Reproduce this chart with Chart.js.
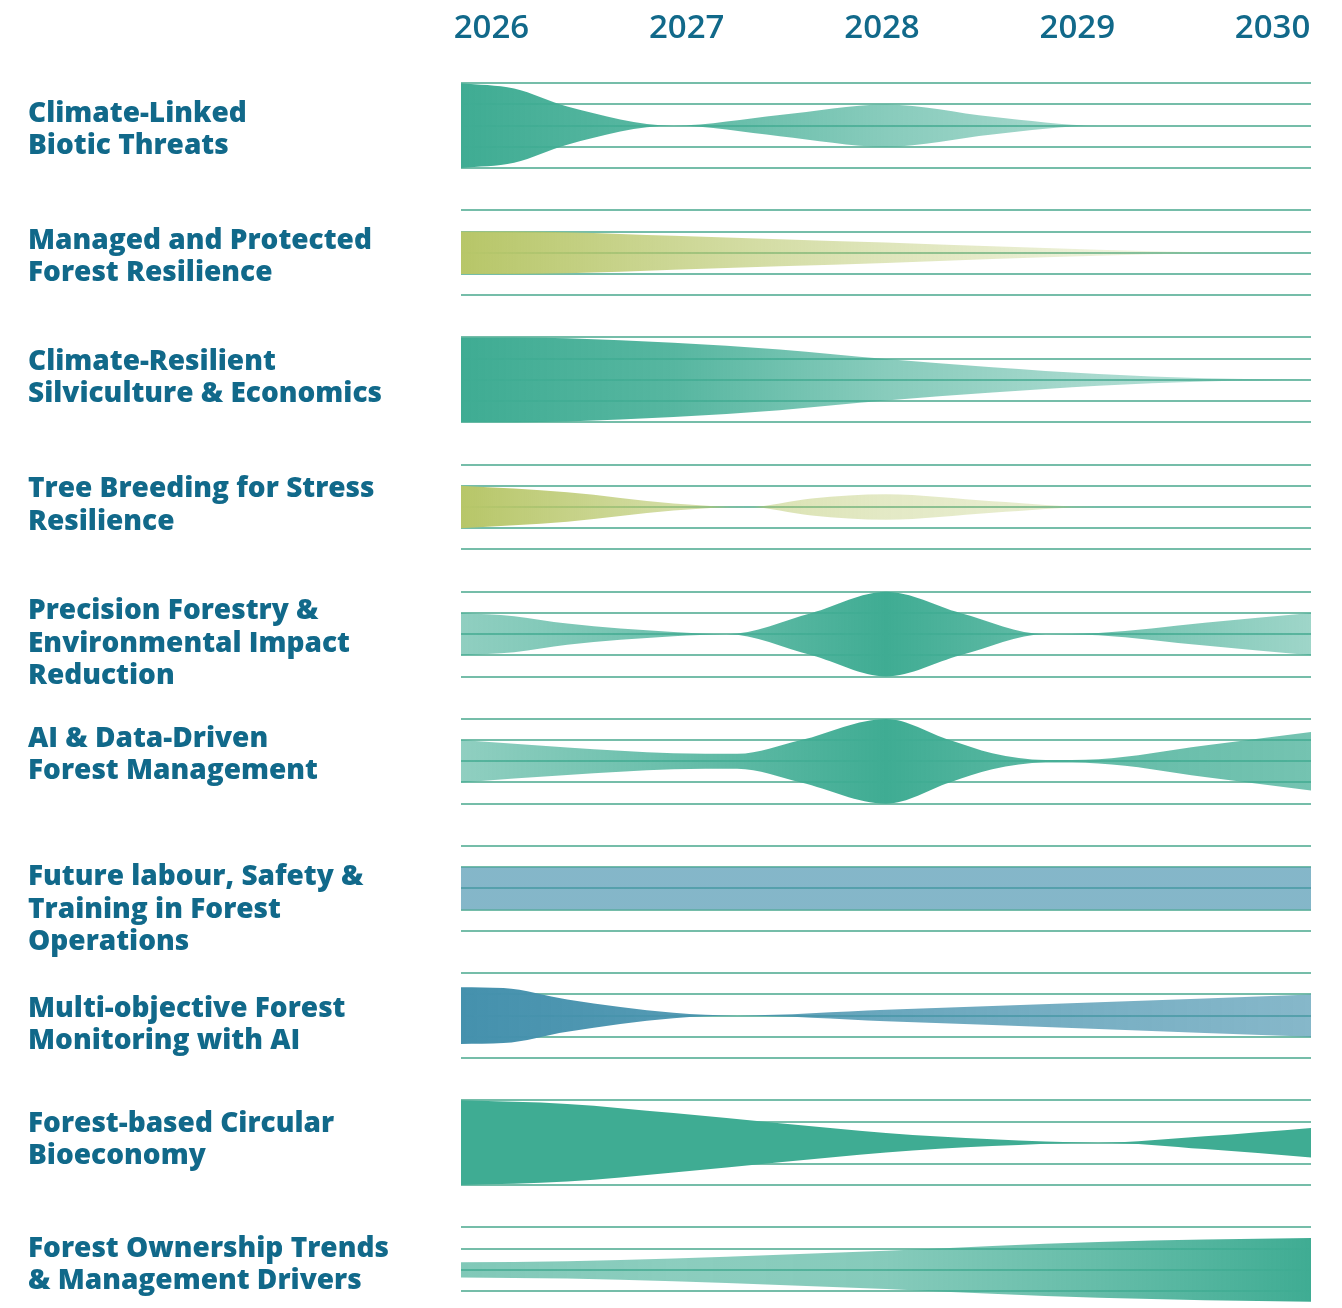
<!DOCTYPE html>
<html lang="en">
<head>
<meta charset="UTF-8">
<title>Research topics 2026 - 2030</title>
<script src="https://cdn.jsdelivr.net/npm/chart.js"></script>
<style>
  html, body { margin: 0; padding: 0; background: #fff; }
  #wrap { width: 1342px; height: 1308px; }
</style>
</head>
<body>
<div id="wrap"><canvas id="roadmap" width="1342" height="1308"></canvas></div>
<script>
// topics, top to bottom (one band each)
const topics = [
  ['Climate-Linked', 'Biotic Threats'],
  ['Managed and Protected', 'Forest Resilience'],
  ['Climate-Resilient', 'Silviculture & Economics'],
  ['Tree Breeding for Stress', 'Resilience'],
  ['Precision Forestry &', 'Environmental Impact', 'Reduction'],
  ['AI & Data-Driven', 'Forest Management'],
  ['Future labour, Safety &', 'Training in Forest', 'Operations'],
  ['Multi-objective Forest', 'Monitoring with AI'],
  ['Forest-based Circular', 'Bioeconomy'],
  ['Forest Ownership Trends', '& Management Drivers']
];

const years = [2026, 2027, 2028, 2029, 2030];
const halfYears = [2026, 2026.5, 2027, 2027.5, 2028, 2028.5, 2029, 2029.5, 2030];

// band half-width (in grid steps) at each point in time
const bioticX = [2026, 2026.25, 2026.5, 2027, 2027.5, 2028, 2028.5, 2029, 2030];
const bioticW = [2, 1.75, 0.9, 0, 0.5, 1, 0.42, 0, 0];

const protectedX = [2026, 2026.25, 2026.5, 2027, 2027.5, 2028, 2028.5, 2029, 2029.5, 2030];
const protectedW = [1, 1, 0.97, 0.8, 0.64, 0.48, 0.3, 0.14, 0.02, 0];

const silvicultureX = [2026, 2026.25, 2026.5, 2027, 2027.5, 2028, 2028.5, 2029, 2029.5, 2030];
const silvicultureW = [2, 2, 1.96, 1.75, 1.43, 0.98, 0.6, 0.28, 0.08, 0];

const breedingX = [2026, 2026.5, 2027, 2027.35, 2027.65, 2028, 2028.5, 2029, 2030];
const breedingW = [1, 0.7, 0.17, 0, 0.4, 0.6, 0.27, 0, 0];

const precisionX = [2026, 2026.25, 2026.5, 2027, 2027.25, 2027.65, 2028, 2028.35, 2028.75, 2029, 2029.5, 2030];
const precisionW = [1, 0.85, 0.5, 0.1, 0, 1, 2, 1, 0, 0.05, 0.54, 1];

const aiDataX = [2026, 2026.5, 2027, 2027.3, 2027.6, 2028, 2028.3, 2028.5, 2028.75, 2029, 2029.5, 2030];
const aiDataW = [1, 0.65, 0.38, 0.35, 1, 2, 1, 0.38, 0.06, 0.1, 0.74, 1.38];

const labourX = [2026, 2030];
const labourW = [1, 1];

const monitoringX = [2026, 2026.2, 2026.5, 2027, 2027.3, 2028, 2029, 2030];
const monitoringW = [1.34, 1.3, 0.76, 0.13, 0, 0.27, 0.63, 1];

const bioeconomyX = halfYears;
const bioeconomyW = [2, 1.83, 1.4, 0.92, 0.46, 0.16, 0, 0.3, 0.7];

const ownershipX = halfYears;
const ownershipW = [0.36, 0.41, 0.54, 0.71, 0.9, 1.13, 1.32, 1.43, 1.5];

const bands = [
  [bioticX, bioticW], [protectedX, protectedW], [silvicultureX, silvicultureW],
  [breedingX, breedingW], [precisionX, precisionW], [aiDataX, aiDataW],
  [labourX, labourW], [monitoringX, monitoringW], [bioeconomyX, bioeconomyW],
  [ownershipX, ownershipW]
];

// colours: base colour per band, opacity at each label year
const TEAL = '63,172,147';
const OLIVE = '183,198,104';
const BLUE = '69,145,173';
const bandColors = [TEAL, OLIVE, TEAL, OLIVE, TEAL, TEAL, BLUE, BLUE, TEAL, TEAL];
const bandShade = [
  [1, 0.85, 0.62, 0.45, 0.4],
  [1, 0.7, 0.45, 0.25, 0.15],
  [1, 0.88, 0.62, 0.45, 0.35],
  [1, 0.6, 0.38, 0.3, 0.2],
  [0.58, 0.75, 1, 0.75, 0.5],
  [0.58, 0.78, 1, 0.8, 0.72],
  [0.66, 0.66, 0.66, 0.66, 0.66],
  [1, 0.92, 0.8, 0.72, 0.65],
  [1, 1, 1, 1, 1],
  [0.66, 0.6, 0.63, 0.8, 1]
];

// topic labels are not exactly centred on their bands (grid steps, + = down)
const labelNudge = [0.21, 0.21, -0.07, -0.07, 0.45, -0.31, 1.0, 0.45, -0.12, -0.21];

const ROW = 6;          // grid steps per band incl. the gap
const ink = '#11698a';
const gridColor = 'rgba(25,145,112,0.6)';
const font = 'Open Sans';

function bandFill(i) {
  return (ctx) => {
    const chart = ctx.chart;
    const xs = chart.scales.x;
    if (!chart.chartArea || !xs) return 'rgba(' + bandColors[i] + ',0.7)';
    const g = chart.ctx.createLinearGradient(xs.getPixelForValue(years[0]), 0,
                                             xs.getPixelForValue(years[years.length - 1]), 0);
    bandShade[i].forEach((a, k) => {
      g.addColorStop(k / (bandShade[i].length - 1), 'rgba(' + bandColors[i] + ',' + a + ')');
    });
    return g;
  };
}

const datasets = [];
bands.forEach(([xs, ws], i) => {
  const mid = ROW * i + 3;
  const line = {
    borderWidth: 0,
    borderColor: 'transparent',
    pointRadius: 0,
    cubicInterpolationMode: 'monotone'
  };
  datasets.push(Object.assign({
    data: xs.map((x, k) => ({ x: x, y: mid - ws[k] })),
    fill: '+1',
    backgroundColor: bandFill(i)
  }, line));
  datasets.push(Object.assign({
    data: xs.map((x, k) => ({ x: x, y: mid + ws[k] })),
    fill: false
  }, line));
});

const Y_MAX = 58.8;

new Chart(document.getElementById('roadmap'), {
  type: 'line',
  data: { datasets: datasets },
  options: {
    responsive: false,
    animation: false,
    layout: { padding: { left: 28, right: 31, top: 0, bottom: 0 } },
    plugins: { legend: { display: false }, tooltip: { enabled: false } },
    scales: {
      x: { type: 'linear', min: 2026, max: 2030, display: false },
      years: {
        type: 'linear',
        position: 'top',
        min: 2025.844,
        max: 2030.197,
        grid: { display: false, drawTicks: false },
        border: { display: false },
        ticks: {
          stepSize: 1,
          includeBounds: false,
          autoSkip: false,
          maxRotation: 0,
          padding: 14,
          color: ink,
          font: { family: font, size: 33, weight: 600 },
          callback: (v) => (Number.isInteger(v) ? String(v) : '')
        },
        afterFit: (s) => { s.height = 62; s.paddingLeft = 0; s.paddingRight = 0; }
      },
      y: {
        type: 'linear',
        position: 'left',
        reverse: true,
        min: 0,
        max: Y_MAX,
        z: 1,
        grid: {
          drawTicks: false,
          lineWidth: 2,
          color: (c) => {
            const v = c.tick.value;
            return Number.isInteger(v) && v % ROW !== 0 ? gridColor : 'rgba(0,0,0,0)';
          }
        },
        border: { display: false },
        ticks: { display: false, stepSize: 1, includeBounds: false, autoSkip: false, maxTicksLimit: 100 },
        afterFit: (s) => { s.width = 0; s.paddingTop = 0; s.paddingBottom = 0; }
      },
      topic: {
        type: 'linear',
        position: 'left',
        reverse: true,
        min: 0,
        max: Y_MAX,
        grid: { display: false, drawTicks: false },
        border: { display: false },
        afterBuildTicks: (s) => {
          s.ticks = topics.map((t, i) => ({ value: ROW * i + 3 + labelNudge[i] }));
        },
        ticks: {
          autoSkip: false,
          crossAlign: 'far',
          color: ink,
          font: { family: font, size: 28, weight: 800, lineHeight: 1.15 },
          callback: (v, i) => topics[i]
        },
        afterFit: (s) => { s.width = 433; s.paddingTop = 0; s.paddingBottom = 0; }
      }
    }
  }
});
</script>
</body>
</html>
